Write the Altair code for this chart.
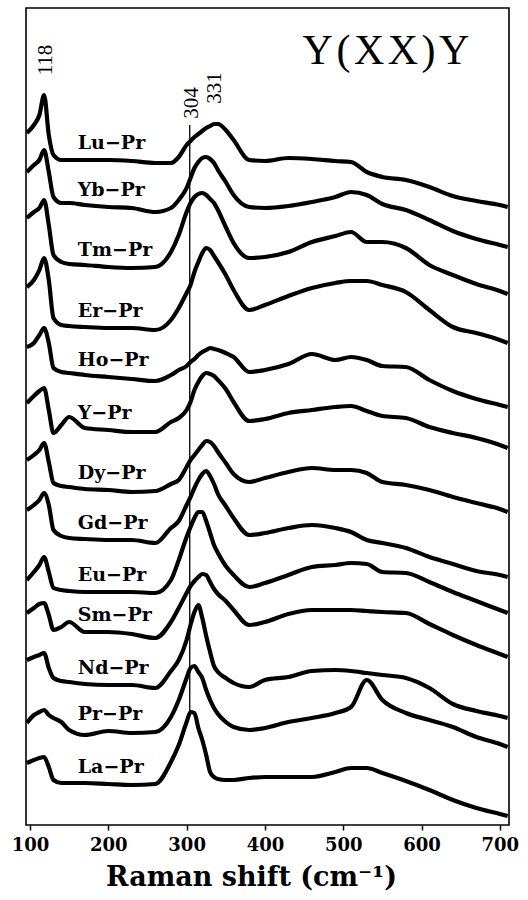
import altair as alt
import pandas as pd

# Raman shift sampling points (cm^-1) shared by every spectrum
WAVENUMBER = [96, 105, 112, 118, 124, 130, 140, 150, 170, 200,
              230, 260, 280, 290, 300, 305, 310, 315, 320, 325,
              330, 335, 340, 350, 360, 380, 400, 430, 460, 490,
              510, 530, 550, 580, 610, 640, 670, 700, 710]

# Stacked intensities (arbitrary units, offset per sample)
LU_PR = [692, 700, 710, 730, 690, 670, 665, 665, 665, 665,
         664, 662, 662, 668, 680, 684, 688, 691, 694, 697,
         699, 701, 701, 695, 685, 665, 664, 667, 666, 664,
         663, 653, 648, 645, 638, 629, 624, 620, 618]
YB_PR = [653, 660, 665, 675, 653, 628, 622, 622, 620, 618,
         617, 613, 617, 625, 637, 647, 657, 663, 667, 668,
         666, 662, 655, 643, 630, 618, 617, 619, 623, 628,
         633, 630, 621, 615, 605, 594, 586, 580, 578]
TM_PR = [607, 613, 617, 625, 600, 570, 563, 561, 560, 558,
         557, 558, 573, 590, 613, 622, 628, 631, 632, 630,
         626, 622, 615, 598, 582, 567, 568, 573, 583, 589,
         593, 583, 583, 577, 560, 550, 541, 534, 531]
ER_PR = [538, 545, 555, 567, 545, 507, 500, 499, 498, 497,
         497, 495, 505, 517, 532, 540, 553, 563, 572, 577,
         575, 569, 563, 550, 535, 515, 520, 529, 537, 542,
         544, 544, 540, 533, 515, 498, 492, 485, 482]
HO_PR = [478, 482, 490, 497, 482, 457, 453, 452, 450, 448,
         446, 444, 450, 455, 459, 463, 466, 470, 473, 475,
         477, 476, 475, 472, 468, 453, 455, 461, 471, 465,
         468, 465, 459, 458, 445, 434, 426, 420, 418]
Y_PR = [422, 429, 434, 437, 415, 392, 400, 408, 397, 395,
        393, 393, 403, 407, 415, 423, 435, 443, 449, 452,
        451, 449, 445, 436, 423, 404, 406, 412, 415, 418,
        419, 414, 409, 407, 398, 392, 387, 380, 377]
DY_PR = [365, 370, 375, 382, 363, 342, 339, 338, 336, 335,
         333, 334, 341, 345, 358, 365, 370, 375, 380, 384,
         383, 379, 373, 362, 351, 343, 347, 353, 357, 355,
         355, 352, 343, 340, 335, 328, 322, 316, 313]
GD_PR = [315, 320, 325, 332, 320, 295, 289, 287, 286, 285,
         285, 282, 297, 304, 320, 328, 337, 345, 351, 354,
         349, 341, 331, 319, 307, 290, 292, 297, 300, 297,
         293, 285, 282, 277, 268, 261, 254, 250, 248]
EU_PR = [245, 253, 260, 268, 253, 237, 235, 234, 233, 233,
         233, 232, 245, 265, 288, 298, 307, 313, 313, 304,
         292, 280, 272, 259, 250, 238, 242, 250, 258, 260,
         262, 261, 253, 252, 243, 233, 224, 215, 212]
SM_PR = [212, 217, 221, 222, 210, 195, 198, 203, 193, 193,
         191, 187, 203, 217, 232, 239, 244, 248, 251, 250,
         243, 236, 231, 224, 215, 200, 203, 211, 215, 215,
         215, 214, 213, 212, 201, 190, 180, 171, 168]
ND_PR = [165, 168, 170, 172, 157, 147, 144, 143, 141, 140,
         140, 137, 154, 165, 185, 200, 213, 220, 207, 189,
         173, 159, 153, 147, 142, 138, 145, 148, 154, 155,
         154, 152, 150, 147, 137, 121, 114, 109, 107]
PR_PR = [102, 110, 113, 115, 110, 107, 103, 95, 90, 94,
         92, 93, 108, 125, 147, 157, 159, 153, 147, 135,
         125, 117, 111, 103, 98, 95, 97, 103, 107, 112,
         118, 145, 125, 112, 105, 98, 88, 81, 78]
LA_PR = [62, 65, 67, 68, 58, 45, 42, 42, 42, 41,
         40, 41, 63, 80, 103, 113, 112, 97, 85, 70,
         53, 48, 46, 45, 45, 47, 48, 48, 48, 53,
         57, 57, 52, 44, 35, 25, 17, 11, 9]

SAMPLES = ["Lu−Pr", "Yb−Pr", "Tm−Pr", "Er−Pr", "Ho−Pr", "Y−Pr", "Dy−Pr",
           "Gd−Pr", "Eu−Pr", "Sm−Pr", "Nd−Pr", "Pr−Pr", "La−Pr"]
SPECTRA = [LU_PR, YB_PR, TM_PR, ER_PR, HO_PR, Y_PR, DY_PR,
           GD_PR, EU_PR, SM_PR, ND_PR, PR_PR, LA_PR]

# Marked phonon modes (cm^-1)
PEAKS = [118, 304, 331]
X_TICKS = [100, 200, 300, 400, 500, 600, 700]

rows = []
for name, values in zip(SAMPLES, SPECTRA):
    for w, v in zip(WAVENUMBER, values):
        rows.append({"sample": name, "shift": w, "intensity": v})
spectra = pd.DataFrame(rows)

# sample names sit just above each trace's flat region
labels = pd.DataFrame({
    "sample": SAMPLES,
    "shift": [161] * len(SAMPLES),
    "intensity": [vals[WAVENUMBER.index(200)] + 17 for vals in SPECTRA],
})

peaks = pd.DataFrame({"peak": PEAKS, "text": [str(p) for p in PEAKS],
                      "pos": [PEAKS[0] + 2, PEAKS[1] + 2.5, PEAKS[2] + 5],
                      "ypix": [52, 95, 80]})

x_scale = alt.Scale(domain=[94.9, 711.7], nice=False, zero=False)
y_scale = alt.Scale(domain=[0, 817], nice=False, zero=False)

x_axis = alt.Axis(
    values=X_TICKS, title="Raman shift (cm⁻¹)", grid=False, domain=False,
    tickColor="black", tickWidth=1.5, tickSize=5,
    labelFont="DejaVu Serif", labelFontWeight="bold", labelFontSize=18,
    labelColor="black", labelPadding=6, labelFlush=False,
    titleFont="DejaVu Serif", titleFontWeight="bold", titleFontSize=27,
    titleColor="black", titlePadding=10, titleX=225, titleAlign="center",
)

base = alt.Chart(spectra)

lines = base.mark_line(
    color="black", strokeWidth=4.2, strokeJoin="round", interpolate="monotone", clip=True
).encode(
    x=alt.X("shift:Q", scale=x_scale, axis=x_axis),
    y=alt.Y("intensity:Q", scale=y_scale, axis=None),
    detail="sample:N",
)

names = alt.Chart(labels).mark_text(
    align="left", baseline="middle", font="DejaVu Serif", fontWeight="bold",
    fontSize=19, color="black"
).encode(
    x=alt.X("shift:Q", scale=x_scale),
    y=alt.Y("intensity:Q", scale=y_scale),
    text="sample:N",
)

mode_line = alt.Chart(peaks[peaks["peak"] == 304]).mark_rule(
    color="black", strokeWidth=1.3
).encode(
    x=alt.X("peak:Q", scale=x_scale),
    y=alt.value(117),
    y2=alt.value(705),
)

mode_text = alt.Chart(peaks).mark_text(
    angle=270, align="center", baseline="middle", font="Liberation Serif",
    fontSize=21, color="black"
).encode(
    x=alt.X("pos:Q", scale=x_scale),
    y=alt.Y("ypix:Q", scale=None),
    text="text:N",
)

geometry = alt.Chart(pd.DataFrame({"t": ["Y\u200a(\u200aX\u200aX\u200a)\u200aY"]})).mark_text(
    align="center", baseline="middle", font="Liberation Serif", fontSize=42, color="black"
).encode(
    x=alt.value(360),
    y=alt.value(43),
    text="t:N",
)

chart = alt.layer(lines, names, mode_line, mode_text, geometry).properties(
    width=483,
    height=817,
    padding={"left": 26, "top": 8, "right": 19, "bottom": 75},
    autosize=alt.AutoSizeParams(type="none"),
    background="white",
).configure_view(
    stroke="black", strokeWidth=1.6
)

chart.save("out.html", embed_options={"renderer": "svg", "actions": False})
